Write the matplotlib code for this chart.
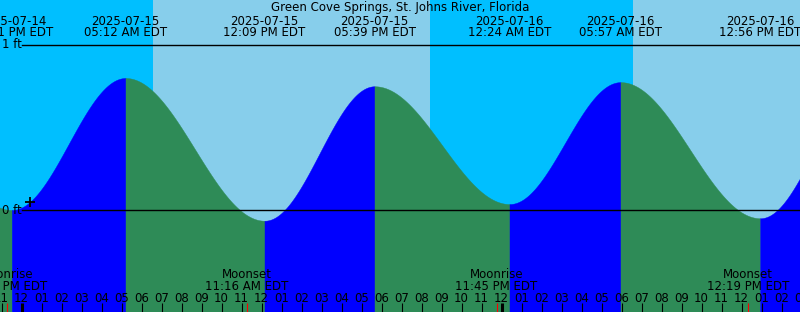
import numpy as np
import matplotlib
matplotlib.use("Agg")
import matplotlib.pyplot as plt
from datetime import datetime

# ---------------- data ----------------
title = "Green Cove Springs, St. Johns River, Florida"
ref_day = "2025-07-15 00:00"          # time origin (hours)
view_start = "2025-07-14 22:55:30"
view_end = "2025-07-16 14:55:30"

tide_times = ["2025-07-14 16:50", "2025-07-14 23:31", "2025-07-15 05:12",
              "2025-07-15 12:09", "2025-07-15 17:39", "2025-07-16 00:24",
              "2025-07-16 05:57", "2025-07-16 12:56", "2025-07-16 18:20"]
tide_heights = [0.74, 0.0, 0.80, -0.065, 0.75, 0.036, 0.775, -0.05, 0.76]

sun_sets = ["2025-07-14 20:26", "2025-07-15 20:25", "2025-07-16 20:24"]
sun_rises = ["2025-07-15 06:34", "2025-07-16 06:35", "2025-07-17 06:36"]

moon_times = ["2025-07-14 23:15", "2025-07-15 11:16", "2025-07-15 23:45", "2025-07-16 12:19"]
moon_kinds = ["Moonrise", "Moonset", "Moonrise", "Moonset"]

level_ticks = [0, 1]
level_labels = ["0 ft", "1 ft"]

# ---------------- helpers ----------------
def parse(s):
    fmt = "%Y-%m-%d %H:%M:%S" if s.count(":") == 2 else "%Y-%m-%d %H:%M"
    return datetime.strptime(s, fmt)

T0 = parse(ref_day)
def hrs(s):
    return (parse(s) - T0).total_seconds() / 3600.0

def fmt_time(s):
    d = parse(s)
    return d.strftime("%I:%M %p") + " EDT"

th = np.array([hrs(s) for s in tide_times])
hh = np.array(tide_heights)
x0, x1 = hrs(view_start), hrs(view_end)

W, H = 800, 312
fig = plt.figure(figsize=(W / 100, H / 100), dpi=100)
ax = fig.add_axes([0, 0, 1, 1])
ax.set_xlim(x0, x1)
ytop, ybot = 210 / 165, -102 / 165
ax.set_ylim(ybot, ytop)
ax.axis("off")
ax.add_patch(plt.Rectangle((x0, ybot), x1 - x0, ytop - ybot, color="#87CEEB", zorder=0))

for s, r in zip(sun_sets, sun_rises):
    ax.axvspan(hrs(s), hrs(r), color="#00BFFF", lw=0, zorder=0.5)

def fy(p):
    return 1 - p / H

def fx(p):
    return p / W

# tide curve
def level(t):
    i = np.clip(np.searchsorted(th, t, side="right") - 1, 0, len(th) - 2)
    f = (t - th[i]) / (th[i + 1] - th[i])
    return hh[i] + (hh[i + 1] - hh[i]) * (1 - np.cos(np.pi * f)) / 2

for i in range(len(th) - 1):
    a, b = max(th[i], x0 - 1), min(th[i + 1], x1 + 1)
    if a >= b:
        continue
    t = np.linspace(a, b, 300)
    col = "#0000FF" if hh[i + 1] > hh[i] else "#2E8B57"
    ax.fill_between(t, ybot, level(t), color=col, lw=0.3, ec=col, zorder=1)

# level lines
for lv, lab in zip(level_ticks, level_labels):
    ax.axhline(lv, xmin=fx(22), xmax=1, color="black", lw=1.0, zorder=2)
    ax.text(fx(2), (lv - ybot) / (ytop - ybot), lab, transform=ax.transAxes,
            ha="left", va="center", fontsize=8.5, zorder=3)

# current time marker
now = x0 + (30 / W) * (x1 - x0)
ax.plot([now], [level(np.array([now]))[0]], marker="+", color="black",
        ms=7, mew=1.3, zorder=3)

fs = 8.5
tr = ax.get_xaxis_transform()
# title
ax.text(0.5, fy(11), title, transform=ax.transAxes, ha="center", va="baseline", fontsize=fs, zorder=3)

# tide labels
for s in tide_times:
    x = hrs(s)
    if x0 - 3 < x < x1 + 3:
        ax.text(x, fy(25), parse(s).strftime("%Y-%m-%d"), transform=tr,
                ha="center", va="baseline", fontsize=fs, zorder=3)
        ax.text(x, fy(36.5), fmt_time(s), transform=tr,
                ha="center", va="baseline", fontsize=fs, zorder=3)

# moon labels
for s, k in zip(moon_times, moon_kinds):
    x = hrs(s)
    ax.text(x, fy(278.3), k, transform=tr, ha="center", va="baseline", fontsize=fs, zorder=3)
    ax.text(x, fy(290), fmt_time(s), transform=tr, ha="center", va="baseline", fontsize=fs, zorder=3)

# hour ticks and labels
for h in range(int(np.floor(x0)), int(np.ceil(x1)) + 1):
    lab = "%02d" % ((h % 12) or 12)
    ax.text(h, fy(301.5), lab, transform=tr, ha="center", va="baseline", fontsize=fs, zorder=3)
    lw = 2.2 if h % 24 == 0 else 0.8
    ax.plot([h, h], [fy(303), fy(312)], transform=tr, color="black", lw=lw, zorder=3,
            solid_capstyle="butt")

# red moon-event ticks
for s in moon_times:
    x = hrs(s)
    ax.plot([x, x], [fy(303), fy(312)], transform=tr, color="red", lw=0.8, zorder=3.5,
            solid_capstyle="butt")

fig.savefig("out.png", dpi=100)
